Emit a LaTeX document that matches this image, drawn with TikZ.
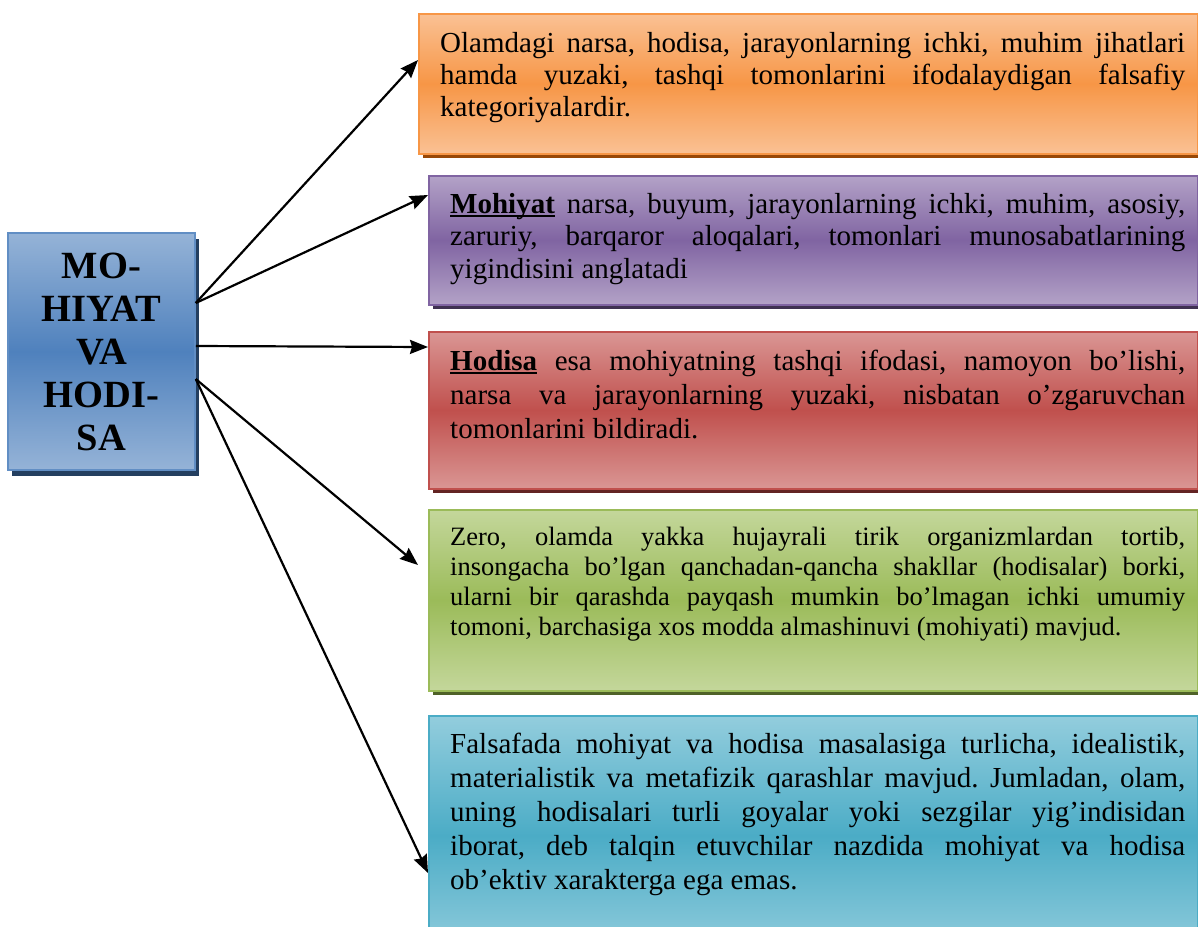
\documentclass[tikz,border=0pt]{standalone}
\usepackage{fontspec}
\setmainfont{Liberation Serif}
\usetikzlibrary{shadows,arrows.meta}
\definecolor{oL}{HTML}{FAC194}\definecolor{oM}{HTML}{F79646}\definecolor{oS}{HTML}{984807}
\definecolor{pL}{HTML}{B3A2C7}\definecolor{pM}{HTML}{8064A2}\definecolor{pS}{HTML}{3F3151}
\definecolor{rL}{HTML}{DA9694}\definecolor{rM}{HTML}{C0504D}\definecolor{rS}{HTML}{632423}
\definecolor{gL}{HTML}{C4D79B}\definecolor{gM}{HTML}{9BBB59}\definecolor{gS}{HTML}{4F6228}
\definecolor{bL}{HTML}{93CDDD}\definecolor{bM}{HTML}{4BACC6}\definecolor{bS}{HTML}{215968}
\definecolor{nL}{HTML}{95B3D7}\definecolor{nM}{HTML}{4F81BD}\definecolor{nS}{HTML}{243F60}
\newcommand\myul[1]{\setbox0\hbox{#1}\rlap{\rule[-4pt]{\wd0}{1.6pt}}\box0\relax}
\newcommand\jl[1]{\hbox to\hsize{#1}}
\newcommand\nl[1]{\hbox{#1}}
\frenchspacing
\tikzset{
  panel/.style n args={3}{draw=#2, line width=1.5pt, top color=#1, bottom color=#1, middle color=#2,
    general shadow={fill=#3, shadow xshift=4pt, shadow yshift=-4pt},
    anchor=north west, inner sep=0pt},
  txt/.style={anchor=base west, inner sep=0pt},
  arr/.style={line width=2.2pt, -{Stealth[length=18pt,width=14pt,inset=2pt]}}
}
\begin{document}
\begin{tikzpicture}[x=1pt,y=-1pt]
\useasboundingbox (0,0) rectangle (1198,926);
% left box
\node[draw=nM!90!white, line width=1.5pt, top color=nL, bottom color=nL, middle color=nM,
  general shadow={fill=nS, shadow xshift=4pt, shadow yshift=-6pt},
  minimum width=187pt, minimum height=237pt, inner sep=0pt, align=center,
  font=\bfseries\fontsize{38.5}{43}\selectfont] (L) at (101.5,351.5) {MO-\\HIYAT\\VA\\HODI-\\SA};
% right boxes
\node[panel={oL}{oM}{oS}, minimum width=779pt, minimum height=140pt] (B1) at (418,13) {};
\node[panel={pL}{pM}{pS}, minimum width=769pt, minimum height=129pt] (B2) at (428,175) {};
\node[panel={rL}{rM}{rS}, minimum width=769pt, minimum height=157pt] (B3) at (428,331) {};
\node[panel={gL}{gM}{gS}, minimum width=769pt, minimum height=181pt] (B4) at (428,509) {};
\node[panel={bL}{bM}{bS}, minimum width=769pt, minimum height=240pt] (B5) at (428,715) {};
% texts
\node[txt] (T1) at (440,52) {\vtop{\hsize=745pt\fontsize{29}{32}\selectfont
 \jl{Olamdagi narsa, hodisa, jarayonlarning ichki, muhim jihatlari}
 \jl{hamda yuzaki, tashqi tomonlarini ifodalaydigan falsafiy}
 \nl{kategoriyalardir.}}};
\node[txt] (T2) at (450,213) {\vtop{\hsize=735pt\fontsize{29}{32.5}\selectfont
 \jl{\myul{\textbf{Mohiyat}} narsa, buyum, jarayonlarning ichki, muhim, asosiy,}
 \jl{zaruriy, barqaror aloqalari, tomonlari munosabatlarining}
 \nl{yigindisini anglatadi}}};
\node[txt] (T3) at (450,370) {\vtop{\hsize=735pt\fontsize{29}{34}\selectfont
 \jl{\myul{\textbf{Hodisa}} esa mohiyatning tashqi ifodasi, namoyon bo’lishi,}
 \jl{narsa va jarayonlarning yuzaki, nisbatan o’zgaruvchan}
 \nl{tomonlarini bildiradi.}}};
\node[txt] (T4) at (450,545) {\vtop{\hsize=735pt\fontsize{26.5}{30}\selectfont
 \jl{Zero, olamda yakka hujayrali tirik organizmlardan tortib,}
 \jl{insongacha bo’lgan qanchadan-qancha shakllar (hodisalar) borki,}
 \jl{ularni bir qarashda payqash mumkin bo’lmagan ichki umumiy}
 \nl{tomoni, barchasiga xos modda almashinuvi (mohiyati) mavjud.}}};
\node[txt] (T5) at (450,753) {\vtop{\hsize=735pt\fontsize{29}{34}\selectfont
 \jl{Falsafada mohiyat va hodisa masalasiga turlicha, idealistik,}
 \jl{materialistik va metafizik qarashlar mavjud. Jumladan, olam,}
 \jl{uning hodisalari turli goyalar yoki sezgilar yig’indisidan}
 \jl{iborat, deb talqin etuvchilar nazdida mohiyat va hodisa}
 \nl{ob’ektiv xarakterga ega emas.}}};
% arrows
\coordinate (e4) at ([xshift=-10pt,yshift=-56pt]B4.north west);
\draw[arr] ([yshift=48.5pt]L.east) -- ([yshift=-47pt]B1.north west);
\draw[arr] ([yshift=48.5pt]L.east) -- ([yshift=-20pt]B2.north west);
\draw[arr] ([yshift=5.5pt]L.east) -- ([yshift=-16pt]B3.north west);
\draw[arr] ([yshift=-27.5pt]L.east) -- (e4);
\draw[arr] ([yshift=-27.5pt]L.east) -- ([yshift=-158pt]B5.north west);
\end{tikzpicture}
\end{document}
